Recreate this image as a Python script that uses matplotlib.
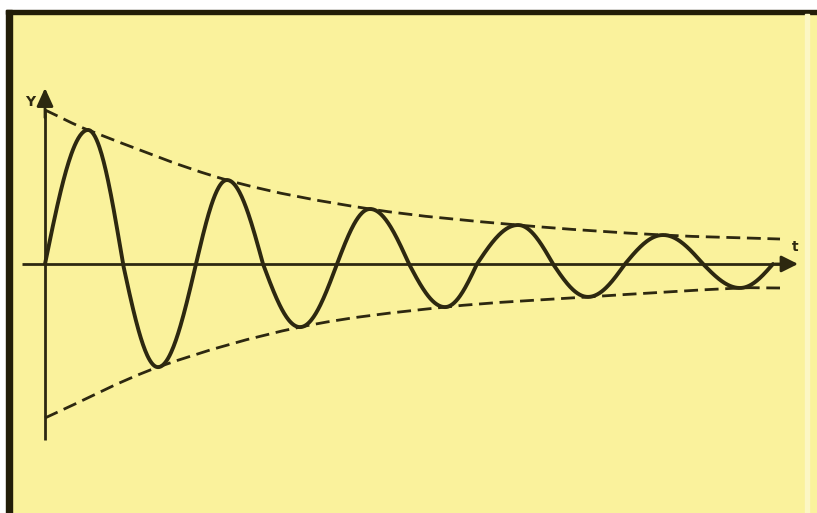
import numpy as np
import matplotlib
matplotlib.use("Agg")
import matplotlib.pyplot as plt
from matplotlib.path import Path
from matplotlib.patches import PathPatch, Rectangle

# key points of the damped wave (zeros and extrema)
wave_t = [0.0, 0.43, 0.78, 1.13, 1.51, 1.82, 2.18, 2.55, 2.92, 3.25, 3.64,
          4.00, 4.32, 4.73, 5.08, 5.43, 5.80, 6.18, 6.58, 6.95, 7.28]
wave_y = [0.0, 0.87, 0.0, -0.67, 0.0, 0.545, 0.0, -0.41, 0.0, 0.357, 0.0,
          -0.28, 0.0, 0.253, 0.0, -0.214, 0.0, 0.188, 0.0, -0.156, 0.0]

# envelope curves (dashed)
upper_t = [0.0, 0.43, 1.82, 3.25, 4.73, 6.18, 7.35]
upper_y = [1.0, 0.87, 0.545, 0.357, 0.253, 0.188, 0.162]
lower_t = [0.0, 1.13, 2.55, 4.00, 5.43, 6.95, 7.35]
lower_y = [-1.0, -0.67, -0.41, -0.28, -0.214, -0.156, -0.156]

ink = "#2d2810"
bg = "#faf29c"

fig = plt.figure(figsize=(8.17, 5.13), dpi=100, facecolor=bg)
W, H = 817.0, 513.0
# white margin + dark frame on left and top, pale stripe on the right
fig.patches.append(Rectangle((0, 0), 6 / W, 1, transform=fig.transFigure, color="white", zorder=0))
fig.patches.append(Rectangle((0, 1 - 10 / H), 1, 10 / H, transform=fig.transFigure, color="white", zorder=0))
fig.patches.append(Rectangle((6 / W, 0), 6 / W, 1 - 10 / H, transform=fig.transFigure, color="#221d08", zorder=1))
fig.patches.append(Rectangle((6 / W, 1 - 14 / H), 1, 4 / H, transform=fig.transFigure, color="#221d08", zorder=1))
fig.patches.append(Rectangle((805 / W, 0), 4 / W, 1 - 14 / H, transform=fig.transFigure, color="#fcf7c4", zorder=1))

ax = fig.add_axes([0, 0, 1, 1])
ax.set_xlim(-0.45, 7.72)
ax.set_ylim(-1.617, 1.714)
ax.axis("off")


def wave_segments(ts, ys, n=50):
    # quarter-wave arcs between zero crossings and extrema
    xs, vs = [ts[0]], [ys[0]]
    for i in range(len(ts) - 1):
        s = np.linspace(0, 1, n)[1:]
        if ys[i] == 0:
            v = ys[i + 1] * np.sin(np.pi / 2 * s)
        else:
            v = ys[i] * np.cos(np.pi / 2 * s)
        xs.extend(ts[i] + (ts[i + 1] - ts[i]) * s)
        vs.extend(v)
    return xs, vs


def smooth_path(ts, ys):
    ts = np.asarray(ts, float)
    ys = np.asarray(ys, float)
    m = np.empty_like(ts)
    m[0] = (ys[1] - ys[0]) / (ts[1] - ts[0])
    m[-1] = (ys[-1] - ys[-2]) / (ts[-1] - ts[-2])
    m[1:-1] = (ys[2:] - ys[:-2]) / (ts[2:] - ts[:-2])
    verts = [(ts[0], ys[0])]
    codes = [Path.MOVETO]
    for i in range(len(ts) - 1):
        h = ts[i + 1] - ts[i]
        verts += [(ts[i] + h / 3, ys[i] + m[i] * h / 3),
                  (ts[i + 1] - h / 3, ys[i + 1] - m[i + 1] * h / 3),
                  (ts[i + 1], ys[i + 1])]
        codes += [Path.CURVE4] * 3
    return Path(verts, codes)


# axes with arrows
ax.plot([-0.23, 7.40], [0, 0], color=ink, lw=2.0, solid_capstyle="butt")
ax.annotate("", xy=(7.53, 0), xytext=(7.30, 0),
            arrowprops=dict(arrowstyle="-|>,head_length=0.5,head_width=0.25", color=ink,
                            lw=2.0, mutation_scale=20, shrinkA=0, shrinkB=0))
ax.plot([0, 0], [-1.143, 1.0], color=ink, lw=2.0, solid_capstyle="butt")
ax.annotate("", xy=(0, 1.143), xytext=(0, 0.95),
            arrowprops=dict(arrowstyle="-|>,head_length=0.55,head_width=0.25", color=ink,
                            lw=2.0, mutation_scale=20, shrinkA=0, shrinkB=0))

ax.text(-0.15, 1.05, "Y", fontsize=10, fontweight="bold", color=ink, ha="center", va="center")
ax.text(7.50, 0.11, "t", fontsize=10, fontweight="bold", color=ink, ha="center", va="center")

# envelopes
for ts, ys in [(upper_t, upper_y), (lower_t, lower_y)]:
    ax.add_patch(PathPatch(smooth_path(ts, ys), fill=False, edgecolor=ink, lw=2.0,
                           linestyle=(0, (5, 2.4)), capstyle="butt"))

# damped wave
xs, vs = wave_segments(wave_t, wave_y)
ax.plot(xs, vs, color=ink, lw=2.8, solid_joinstyle="round", solid_capstyle="round")

fig.savefig("out.png", dpi=100, facecolor=bg)
